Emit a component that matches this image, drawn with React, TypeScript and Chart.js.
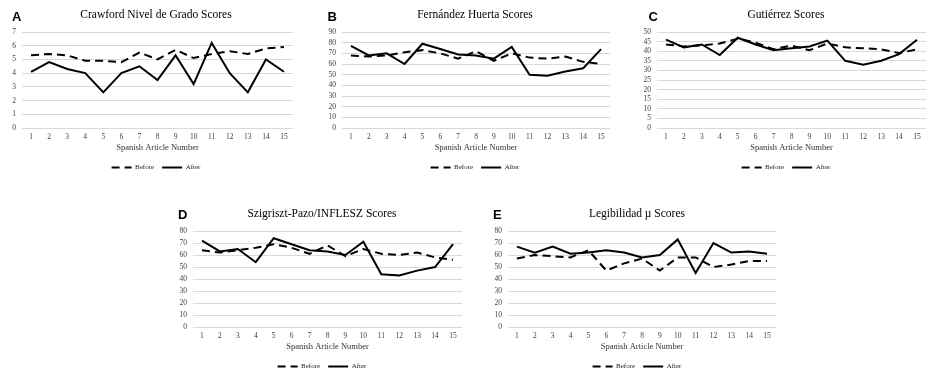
import React, { useEffect, useRef } from "react";
import { Chart, registerables } from "chart.js";

Chart.register(...registerables);

const articles = ["1", "2", "3", "4", "5", "6", "7", "8", "9", "10", "11", "12", "13", "14", "15"];

const crawfordBefore = [5.3, 5.4, 5.3, 4.9, 4.9, 4.8, 5.5, 5.0, 5.7, 5.1, 5.4, 5.6, 5.4, 5.8, 5.9];
const crawfordAfter = [4.1, 4.8, 4.3, 4.0, 2.6, 4.0, 4.5, 3.5, 5.3, 3.2, 6.2, 4.0, 2.6, 5.0, 4.1];

const fernandezBefore = [68, 67, 68, 71, 73, 70, 65, 72, 63, 70, 66, 65, 67, 62, 60];
const fernandezAfter = [77, 68, 70, 60, 79, 74, 69, 68, 65, 76, 50, 49, 53, 56, 74];

const gutierrezBefore = [43.5, 42.5, 43, 44, 46.5, 44.5, 41, 43, 40.5, 44, 42, 41.5, 41, 39, 41];
const gutierrezAfter = [46, 42, 43.5, 38, 47, 43.5, 40.5, 41.5, 42.5, 45.5, 35, 33, 35, 38.5, 46];

const szigrisztBefore = [64, 62, 64, 66, 69, 66, 61, 68, 59, 65, 61, 60, 62, 58, 56];
const szigrisztAfter = [72, 63, 65, 54, 74, 69, 64, 63, 60, 71, 44, 43, 47, 50, 69];

const legibilidadBefore = [57, 60, 59, 58, 64, 47, 53, 57, 47, 58, 58, 50, 52, 55, 55];
const legibilidadAfter = [67, 62, 67, 61, 62, 64, 62, 58, 60, 73, 45, 70, 62, 63, 61];

const xAxisTitle = "Spanish Article Number";

const SERIF = "'Liberation Serif', 'Times New Roman', serif";

type Panel = {
  letter: string;
  title: string;
  before: number[];
  after: number[];
  max: number;
  step: number;
  left: number;
  top: number;
  width: number;
  yWidth: number;
  rWidth: number;
  letterX: number;
  letterY: number;
};

const panels: Panel[] = [
  { letter: "A", title: "Crawford Nivel de Grado Scores", before: crawfordBefore, after: crawfordAfter, max: 7, step: 1,
    left: 0, top: 0, width: 312, yWidth: 22, rWidth: 19, letterX: 12, letterY: 9.5 },
  { letter: "B", title: "Fernández Huerta Scores", before: fernandezBefore, after: fernandezAfter, max: 90, step: 10,
    left: 320, top: 0, width: 310, yWidth: 22, rWidth: 20, letterX: 327.5, letterY: 9.5 },
  { letter: "C", title: "Gutiérrez Scores", before: gutierrezBefore, after: gutierrezAfter, max: 50, step: 5,
    left: 640, top: 0, width: 292, yWidth: 17, rWidth: 6, letterX: 648.5, letterY: 9.5 },
  { letter: "D", title: "Szigriszt-Pazo/INFLESZ Scores", before: szigrisztBefore, after: szigrisztAfter, max: 80, step: 10,
    left: 176, top: 199, width: 292, yWidth: 17, rWidth: 6, letterX: 178, letterY: 207.5 },
  { letter: "E", title: "Legibilidad µ Scores", before: legibilidadBefore, after: legibilidadAfter, max: 80, step: 10,
    left: 490, top: 199, width: 294, yWidth: 18, rWidth: 8, letterX: 493, letterY: 208 },
];

const CANVAS_H = 181;

function PanelChart({ p }: { p: Panel }) {
  const ref = useRef<HTMLCanvasElement | null>(null);
  useEffect(() => {
    if (!ref.current) return;
    const tickFont = { family: SERIF, size: 7.5 };
    const chart = new Chart(ref.current, {
      type: "line",
      data: {
        labels: articles,
        datasets: [
          {
            label: "Before",
            data: p.before,
            borderColor: "#000",
            backgroundColor: "#000",
            borderWidth: 2,
            borderDash: [8, 5],
            pointRadius: 0,
            tension: 0,
            fill: false,
          },
          {
            label: "After",
            data: p.after,
            borderColor: "#000",
            backgroundColor: "#000",
            borderWidth: 2,
            pointRadius: 0,
            tension: 0,
            fill: false,
          },
        ],
      },
      options: {
        animation: false,
        responsive: false,
        devicePixelRatio: 1,
        layout: { padding: 0 },
        plugins: {
          title: {
            display: true,
            text: p.title,
            color: "#000",
            font: { family: SERIF, size: 11.5, weight: "normal" },
            padding: { top: 8.3, bottom: 9.9 },
          },
          legend: {
            position: "bottom",
            labels: {
              usePointStyle: true,
              pointStyle: "line",
              pointStyleWidth: 20,
              padding: 8,
              color: "#222",
              font: { family: SERIF, size: 7 },
              generateLabels: (c: any) => {
                const items = (Chart as any).defaults.plugins.legend.labels.generateLabels(c);
                items.forEach((it: any) => {
                  const ds: any = c.data.datasets[it.datasetIndex];
                  it.lineDash = ds.borderDash || [];
                  it.lineWidth = 2;
                  it.strokeStyle = "#000";
                  it.fillStyle = "#000";
                  it.pointStyle = "line";
                });
                return items;
              },
            },
          },
          tooltip: { enabled: false },
        },
        scales: {
          x: {
            offset: true,
            grid: { display: false, drawTicks: false },
            border: { display: false },
            ticks: { font: tickFont, color: "#404040", padding: 4.5, maxRotation: 0, autoSkip: false },
            title: {
              display: true,
              text: xAxisTitle,
              color: "#333",
              font: { family: SERIF, size: 8.5 },
              padding: { top: 0, bottom: 3.4 },
            },
            afterFit: (s: any) => {
              s.height = 28;
            },
          },
          y: {
            min: 0,
            max: p.max,
            ticks: { stepSize: p.step, autoSkip: false, font: tickFont, color: "#404040", padding: 6 },
            grid: { color: "#d9d9d9", drawTicks: false, lineWidth: 1 },
            border: { display: false },
            afterFit: (s: any) => {
              s.width = p.yWidth;
            },
          },
          yR: {
            type: "linear",
            position: "right",
            display: true,
            grid: { display: false, drawTicks: false },
            border: { display: false },
            ticks: { display: false },
            afterFit: (s: any) => {
              s.width = p.rWidth;
            },
          },
        },
      },
    } as any);
    return () => chart.destroy();
  }, [p]);
  return (
    <canvas
      ref={ref}
      width={p.width}
      height={CANVAS_H}
      style={{ position: "absolute", left: p.left, top: p.top, width: p.width, height: CANVAS_H }}
    />
  );
}

export default function App() {
  return (
    <div
      style={{
        position: "fixed",
        left: 0,
        top: 0,
        width: 926,
        height: 374,
        overflow: "hidden",
        background: "#fff",
      }}
    >
      {panels.map((p) => (
        <PanelChart key={p.letter} p={p} />
      ))}
      {panels.map((p) => (
        <div
          key={"l" + p.letter}
          style={{
            position: "absolute",
            left: p.letterX,
            top: p.letterY,
            fontFamily: "'Liberation Sans', Arial, sans-serif",
            fontWeight: "bold",
            fontSize: 13,
            lineHeight: "13px",
            color: "#000",
          }}
        >
          {p.letter}
        </div>
      ))}
    </div>
  );
}
